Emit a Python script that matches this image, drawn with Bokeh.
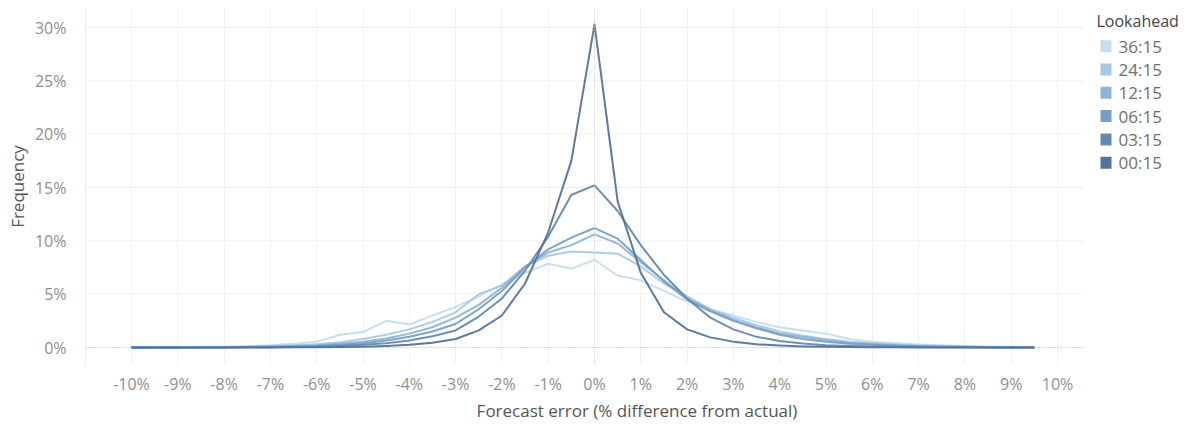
from bokeh.plotting import figure
from bokeh.models import Range1d, FixedTicker, Span
from bokeh.embed import file_html
from bokeh.resources import INLINE
from bokeh.core.properties import value

# ---------------- data ----------------
error_pct = [-10.0, -9.5, -9.0, -8.5, -8.0, -7.5, -7.0, -6.5, -6.0, -5.5,
             -5.0, -4.5, -4.0, -3.5, -3.0, -2.5, -2.0, -1.5, -1.0, -0.5,
             0.0, 0.5, 1.0, 1.5, 2.0, 2.5, 3.0, 3.5, 4.0, 4.5,
             5.0, 5.5, 6.0, 6.5, 7.0, 7.5, 8.0, 8.5, 9.0, 9.5]

lookaheads = ["36:15", "24:15", "12:15", "06:15", "03:15", "00:15"]
colors = ["#c5ddef", "#a7c9e4", "#8db4d6", "#779fc5", "#6689b1", "#55739a"]

freq_3615 = [0.01, 0.02, 0.03, 0.05, 0.08, 0.12, 0.2, 0.35, 0.55, 1.2,
             1.45, 2.5, 2.15, 3.0, 3.8, 4.8, 5.9, 7.0, 7.85, 7.4,
             8.2, 6.75, 6.3, 5.3, 4.3, 3.6, 3.0, 2.4, 1.9, 1.6,
             1.3, 0.8, 0.55, 0.4, 0.28, 0.2, 0.13, 0.08, 0.05, 0.03]
freq_2415 = [0.0, 0.01, 0.02, 0.03, 0.05, 0.08, 0.12, 0.2, 0.3, 0.5,
             0.8, 1.2, 1.7, 2.4, 3.3, 5.0, 5.8, 7.6, 8.6, 9.0,
             8.9, 8.8, 7.6, 6.0, 4.8, 3.6, 2.8, 2.1, 1.5, 1.1,
             0.8, 0.55, 0.4, 0.28, 0.18, 0.12, 0.08, 0.05, 0.03, 0.02]
freq_1215 = [0.0, 0.01, 0.01, 0.02, 0.03, 0.05, 0.08, 0.13, 0.2, 0.35,
             0.55, 0.85, 1.3, 1.9, 2.8, 4.0, 5.6, 7.6, 8.9, 9.6,
             10.6, 9.75, 8.0, 6.3, 4.6, 3.5, 2.6, 1.9, 1.3, 1.0,
             0.7, 0.45, 0.32, 0.22, 0.15, 0.1, 0.07, 0.04, 0.03, 0.02]
freq_0615 = [0.0, 0.0, 0.01, 0.01, 0.02, 0.04, 0.06, 0.1, 0.15, 0.25,
             0.4, 0.65, 1.0, 1.5, 2.2, 3.6, 5.3, 7.5, 9.2, 10.3,
             11.2, 10.2, 8.2, 6.2, 4.5, 3.4, 2.5, 1.8, 1.2, 0.8,
             0.55, 0.35, 0.25, 0.17, 0.11, 0.07, 0.05, 0.03, 0.02, 0.01]
freq_0315 = [0.0, 0.0, 0.0, 0.01, 0.01, 0.02, 0.03, 0.05, 0.08, 0.15,
             0.25, 0.4, 0.65, 1.05, 1.6, 2.9, 4.6, 7.2, 10.4, 14.3,
             15.2, 12.8, 9.6, 6.8, 4.6, 2.8, 1.7, 1.0, 0.6, 0.38,
             0.22, 0.14, 0.09, 0.06, 0.04, 0.03, 0.02, 0.01, 0.01, 0.0]
freq_0015 = [0.0, 0.0, 0.0, 0.0, 0.0, 0.01, 0.01, 0.02, 0.03, 0.05,
             0.08, 0.15, 0.25, 0.45, 0.8, 1.6, 3.0, 6.0, 10.8, 17.5,
             30.3, 13.7, 7.0, 3.3, 1.7, 0.95, 0.55, 0.3, 0.18, 0.1,
             0.06, 0.04, 0.03, 0.02, 0.01, 0.01, 0.01, 0.0, 0.0, 0.0]

series = [freq_3615, freq_2415, freq_1215, freq_0615, freq_0315, freq_0015]

x_ticks = [-10, -9, -8, -7, -6, -5, -4, -3, -2, -1, 0, 1, 2, 3, 4, 5, 6, 7, 8, 9, 10]
y_ticks = [0, 5, 10, 15, 20, 25, 30]

FONT = "Open Sans"

# ---------------- geometry (pixels in the figure) ----------------
W, H = 1188, 425
LEFT, TOP, BOTTOM = 85, 8, 61
FRAME_W = W - LEFT
FRAME_H = H - TOP - BOTTOM
PX_PER_X = 46.3
PX_PER_Y = 320.0 / 30.0
ZERO_X = 594 - LEFT          # frame pixel of x = 0 (from frame left)
ZERO_Y = (TOP + FRAME_H) - 347  # frame pixels above bottom for y = 0
PANE_RIGHT = 1083            # chart pane ends here, legend to its right

x0 = -ZERO_X / PX_PER_X
x1 = (FRAME_W - ZERO_X) / PX_PER_X
y0 = -ZERO_Y / PX_PER_Y
y1 = (FRAME_H - ZERO_Y) / PX_PER_Y


def fx(px):
    return (px - LEFT - ZERO_X) / PX_PER_X


def fy(py):
    return (TOP + FRAME_H - ZERO_Y - py) / PX_PER_Y


pane_end = fx(PANE_RIGHT)

p = figure(width=W, height=H,
           x_range=Range1d(x0, x1), y_range=Range1d(y0, y1),
           output_backend="svg", toolbar_location=None,
           min_border_left=LEFT, min_border_right=0, min_border_top=TOP,
           min_border_bottom=BOTTOM)
p.outline_line_color = None

p.xaxis.ticker = FixedTicker(ticks=x_ticks)
p.yaxis.ticker = FixedTicker(ticks=y_ticks)
p.xaxis.major_label_overrides = {t: f"{t}%" for t in x_ticks}
p.yaxis.major_label_overrides = {t: f"{t}%" for t in y_ticks}

for ax in (p.xaxis, p.yaxis):
    ax.major_tick_line_color = None
    ax.minor_tick_line_color = None
    ax.major_label_text_font = FONT
    ax.major_label_text_font_size = "16px"
    ax.major_label_text_color = "#8f8f8f"
    ax.axis_label_text_font = FONT
    ax.axis_label_text_font_style = "normal"
    ax.axis_label_text_color = "#555555"
    ax.axis_label_text_font_size = "17px"

p.xaxis.axis_line_color = None
p.yaxis.axis_line_color = "#ececec"
p.xaxis.major_label_standoff = 2
p.yaxis.major_label_standoff = 13
p.xaxis.axis_label = "Forecast error (% difference from actual)"
p.yaxis.axis_label = "Frequency"
p.xaxis.axis_label_standoff = 1
p.yaxis.axis_label_standoff = 3

# vertical grid from the axis ticker; horizontal grid only across the chart pane
p.xgrid.ticker = FixedTicker(ticks=x_ticks)
p.xgrid.grid_line_color = "#f0f0f0"
p.ygrid.visible = False
p.segment(x0=[x0] * len(y_ticks), x1=[pane_end] * len(y_ticks), y0=y_ticks, y1=y_ticks,
          line_color="#f0f0f0", line_width=1)
p.segment(x0=[x0], x1=[pane_end], y0=[0], y1=[0],
          line_color="#c4c4c4", line_dash="1 2", line_width=1)
p.add_layout(Span(location=0, dimension="height", line_color="#d4d4d4",
                  line_dash="1 2", line_width=1))

for vals, col in zip(series, colors):
    p.line(error_pct, vals, line_color=col, line_width=2, line_alpha=0.95,
           line_join="round")

# ---------------- legend (drawn in the pane to the right) ----------------
row_y = [fy(45.7 + i * 23.3) for i in range(len(lookaheads))]
p.text(x=[fx(1096)], y=[fy(20.7)], text=["Lookahead"], text_font=value(FONT),
       text_font_size=value("16px"), text_color="#444444", text_baseline="middle")
p.rect(x=[fx(1105.5)] * len(lookaheads), y=row_y,
       width=11 / PX_PER_X, height=12 / PX_PER_Y,
       fill_color=colors, line_color=None)
p.text(x=[fx(1118)] * len(lookaheads), y=row_y, text=lookaheads, text_font=value(FONT),
       text_font_size=value("17px"), text_color="#6f6f6f", text_baseline="middle")

open("out.html", "w").write(file_html(p, INLINE))
